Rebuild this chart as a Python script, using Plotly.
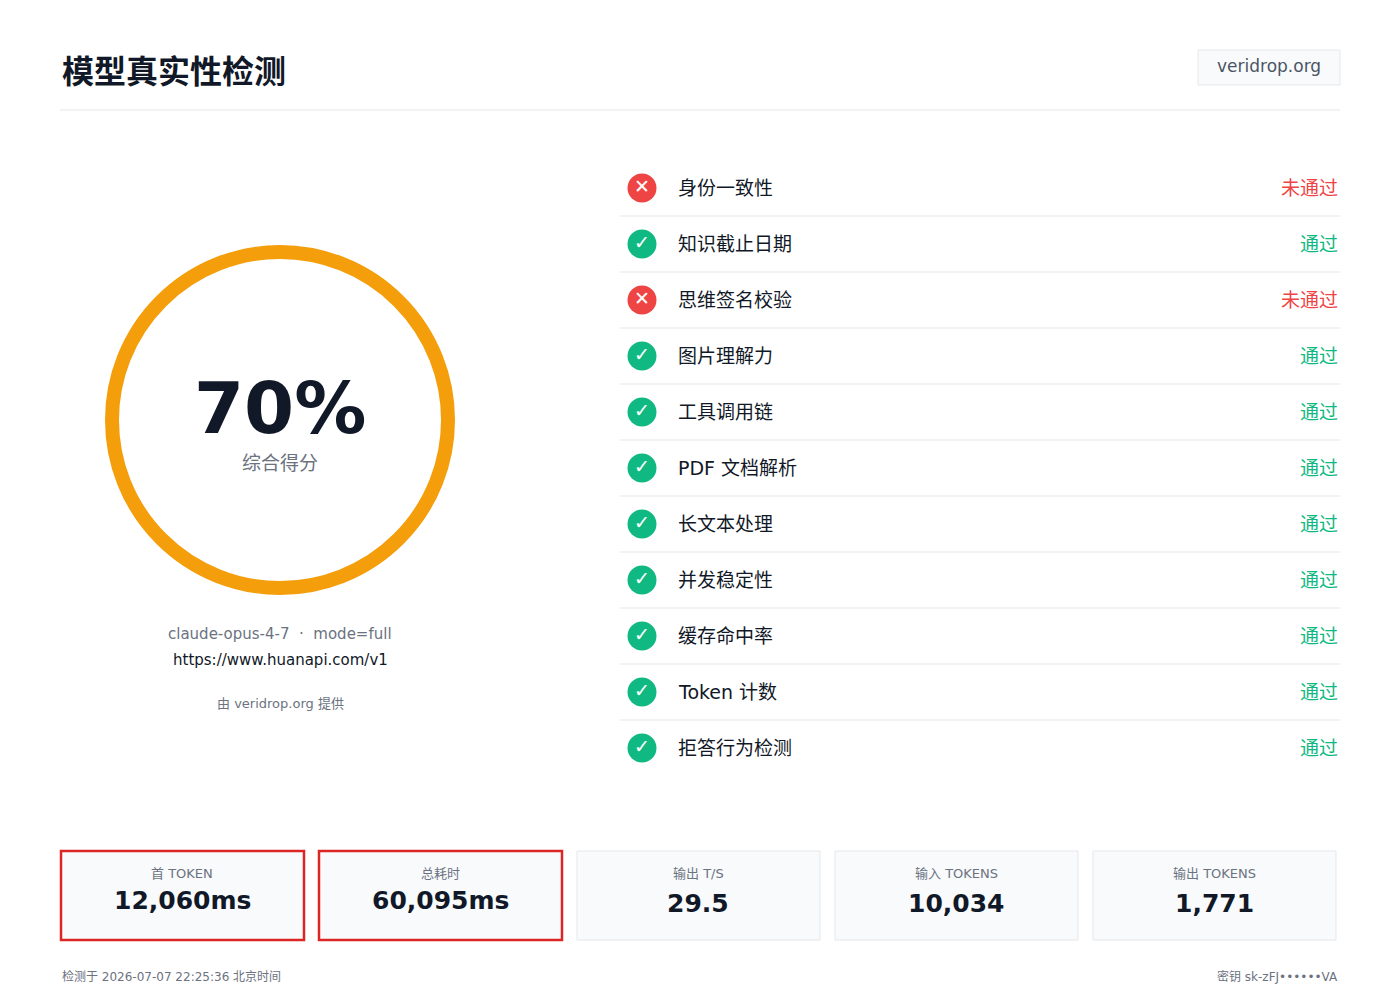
import plotly.graph_objects as go

title = "模型真实性检测"
site = "veridrop.org"
score = "70%"
score_label = "综合得分"
model_line = "claude-opus-4-7  ·  mode=full"
endpoint = "https://www.huanapi.com/v1"
credit = "由 veridrop.org 提供"
check_names = ["身份一致性", "知识截止日期", "思维签名校验", "图片理解力", "工具调用链", "PDF 文档解析",
               "长文本处理", "并发稳定性", "缓存命中率", "Token 计数", "拒答行为检测"]
check_pass = [False, True, False, True, True, True, True, True, True, True, True]
card_labels = ["首 TOKEN", "总耗时", "输出 T/S", "输入 TOKENS", "输出 TOKENS"]
card_values = ["12,060ms", "60,095ms", "29.5", "10,034", "1,771"]
card_alert = [True, True, False, False, False]
footer_left = "检测于 2026-07-07 22:25:36 北京时间"
footer_right = "密钥 sk-zFJ••••••VA"

F = "DejaVu Sans, Noto Sans CJK SC"
RED, GREEN, ORANGE = "#ef4444", "#10b981", "#f59e0b"
DARK, GRAY = "#111827", "#6b7280"

fig = go.Figure()
shapes, ann = [], []

def A(x, y, t, size, color=DARK, xa="center", bold=False):
    ann.append(dict(x=x, y=y, text=f"<b>{t}</b>" if bold else t, showarrow=False, xanchor=xa,
                    yanchor="middle", font=dict(family=F, size=size, color=color)))

A(60, 72, title, 32, xa="left", bold=True)
shapes.append(dict(type="rect", x0=1198, x1=1340, y0=50, y1=85, line=dict(color="#e5e7eb", width=1),
                   fillcolor="#f8fafc", layer="below"))
A(1269, 66, site, 17, "#4b5563")
shapes.append(dict(type="line", x0=60, x1=1340, y0=110, y1=110, line=dict(color="#e5e7eb", width=1)))

shapes.append(dict(type="circle", x0=112, x1=448, y0=252, y1=588, line=dict(color=ORANGE, width=14)))
A(280, 408, score, 72, bold=True)
A(280, 463, score_label, 19, GRAY)
A(280, 634, model_line, 15, GRAY)
A(280, 660, endpoint, 15, DARK)
A(280, 703, credit, 13, GRAY)

ys = [188 + 56 * i for i in range(len(check_names))]
cols = [GREEN if p else RED for p in check_pass]
fig.add_trace(go.Scatter(x=[642] * len(ys), y=ys, mode="markers+text",
                         marker=dict(size=29, color=cols),
                         text=["<b>✓</b>" if p else "<b>✕</b>" for p in check_pass],
                         textfont=dict(color="white", size=19, family="DejaVu Sans"),
                         textposition="middle center", hoverinfo="skip"))
for i, (n, p, y) in enumerate(zip(check_names, check_pass, ys)):
    A(676, y, n, 19, DARK, xa="left")
    A(1340, y, "通过" if p else "未通过", 19, GREEN if p else RED, xa="right")
    if i < len(ys) - 1:
        shapes.append(dict(type="line", x0=620, x1=1340, y0=y + 28, y1=y + 28,
                           line=dict(color="#e5e7eb", width=1)))

for i, (l, v, a) in enumerate(zip(card_labels, card_values, card_alert)):
    x0 = 61 + i * 258
    shapes.append(dict(type="rect", x0=x0, x1=x0 + 243, y0=851, y1=940, layer="below",
                       fillcolor="#f8fafc", line=dict(color="#dc2626" if a else "#e5e7eb", width=2.5 if a else 1)))
    A(x0 + 121, 873, l, 13, GRAY)
    A(x0 + 121, 900 if a else 903, v, 25, DARK, bold=True)

A(60, 976, footer_left, 12, GRAY, xa="left")
A(1340, 976, footer_right, 12, GRAY, xa="right")

fig.update_layout(width=1384, height=984, margin=dict(l=0, r=0, t=0, b=0), showlegend=False,
                  plot_bgcolor="white", paper_bgcolor="white", shapes=shapes, annotations=ann,
                  xaxis=dict(range=[8, 1392], visible=False, fixedrange=True),
                  yaxis=dict(range=[992, 8], visible=False, fixedrange=True))
fig.write_html("out.html", config={"displayModeBar": False})
